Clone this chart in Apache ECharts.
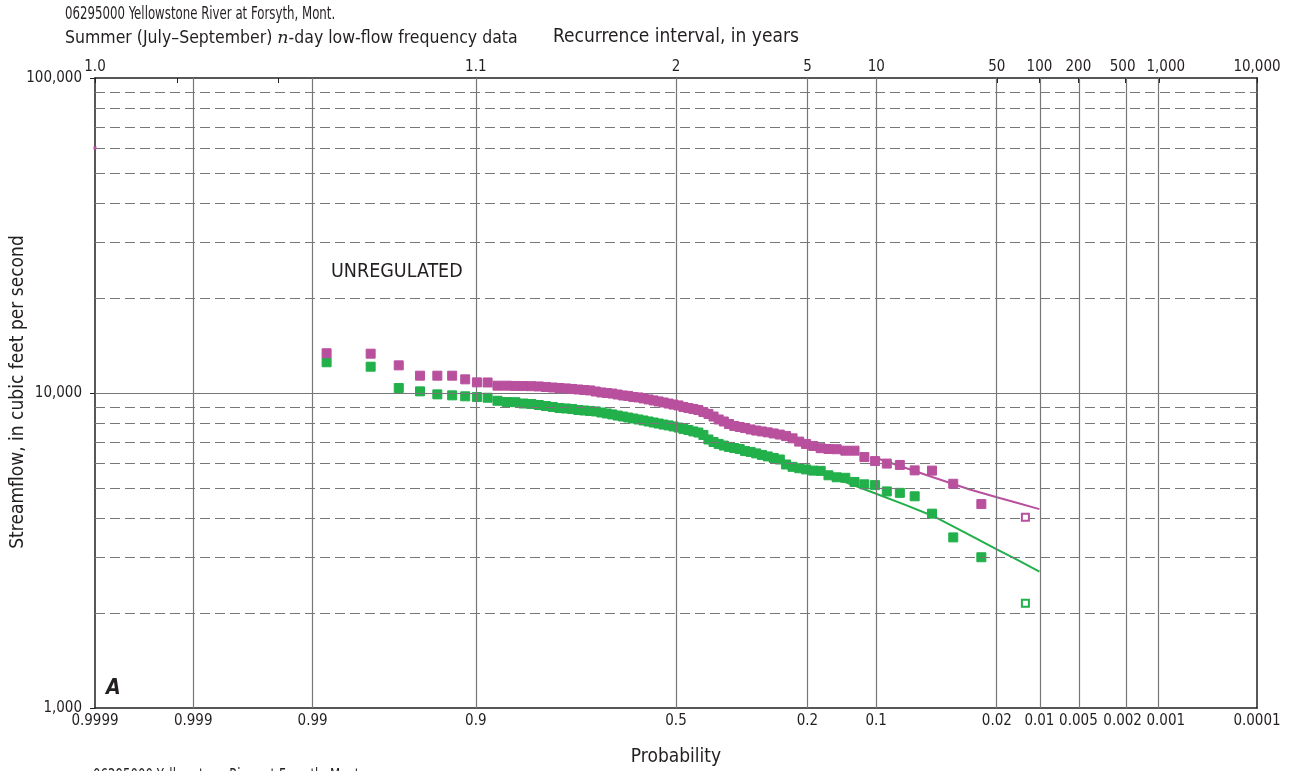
<!DOCTYPE html>
<html>
<head>
<meta charset="utf-8">
<script src="https://cdn.jsdelivr.net/npm/echarts@6/dist/echarts.min.js"></script>
<style>
  html, body { margin: 0; padding: 0; background: #fff; }
  #chart { width: 1296px; height: 771px; }
</style>
</head>
<body>
<div id="chart"></div>
<script>
// Probability (bottom) axis: ticks on a normal-probability scale
const probTicks  = [0.9999, 0.999, 0.99, 0.9, 0.5, 0.2, 0.1, 0.02, 0.01, 0.005, 0.002, 0.001, 0.0001];
const probLabels = ['0.9999', '0.999', '0.99', '0.9', '0.5', '0.2', '0.1', '0.02', '0.01', '0.005', '0.002', '0.001', '0.0001'];
// Recurrence interval (top) axis, placed at the matching probabilities
const recurTicks  = [0.9999, 0.9993, 0.9946, 0.9, 0.5, 0.2, 0.1, 0.02, 0.01, 0.005, 0.002, 0.001, 0.0001];
const recurLabels = ['1.0', '', '', '1.1', '2', '5', '10', '50', '100', '200', '500', '1,000', '10,000'];
// Streamflow axis (log)
const flowMajor = [1000, 10000, 100000];
const flowMinor = [2000, 3000, 4000, 5000, 6000, 7000, 8000, 9000,
                   20000, 30000, 40000, 50000, 60000, 70000, 80000, 90000];

// Ranked summer low flows, largest to smallest (cfs)
const flowsUpper = [
  13370, 13330, 12240, 11350, 11350, 11350, 11050, 10810, 10800, 10550,
  10550, 10530, 10520, 10510, 10490, 10450, 10410, 10370, 10340, 10300,
  10260, 10220, 10190, 10110, 10040, 10000, 9960, 9890, 9820, 9790,
  9710, 9680, 9610, 9540, 9470, 9400, 9330, 9260, 9190, 9130,
  9030, 8960, 8900, 8830, 8700, 8580, 8420, 8240, 8120, 7970,
  7860, 7800, 7740, 7660, 7600, 7550, 7500, 7440, 7380, 7300,
  7180, 7010, 6890, 6790, 6680, 6640, 6630, 6560, 6560, 6260,
  6080, 5970, 5910, 5680, 5670, 5150, 4440, 4030
];
const flowsLower = [
  12520, 12120, 10370, 10120, 9900, 9830, 9760, 9710, 9660, 9450,
  9360, 9350, 9260, 9230, 9160, 9090, 9030, 8960, 8930, 8900,
  8830, 8800, 8770, 8740, 8670, 8610, 8550, 8480, 8420, 8360,
  8300, 8240, 8180, 8120, 8060, 8000, 7940, 7890, 7830, 7770,
  7690, 7630, 7550, 7490, 7360, 7120, 6990, 6890, 6810, 6740,
  6690, 6640, 6540, 6500, 6430, 6360, 6290, 6220, 6150, 5930,
  5830, 5770, 5720, 5670, 5660, 5480, 5400, 5380, 5220, 5130,
  5100, 4870, 4820, 4700, 4140, 3480, 3010, 2150
];
// Fitted frequency curves
const fitUpperProb = [0.1, 0.07, 0.05, 0.03, 0.02, 0.015, 0.01];
const fitUpperFlow = [6220, 5770, 5400, 4940, 4670, 4500, 4280];
const fitLowerProb = [0.2, 0.15, 0.1, 0.07, 0.05, 0.03, 0.02, 0.015, 0.01];
const fitLowerFlow = [5740, 5320, 4790, 4400, 4070, 3540, 3190, 2980, 2710];
// Single mark at the left edge
const edgeProb = [0.9999];
const edgeFlow = [60000];

const colorUpper = '#B8509E';
const colorLower = '#22B04B';
const ink = '#231f20';
const gridGray = '#777777';
const font = "'DejaVu Sans Condensed', 'Liberation Sans Narrow', sans-serif";

// Inverse standard normal CDF (Acklam)
function probit(p) {
  const a = [-3.969683028665376e+01, 2.209460984245205e+02, -2.759285104469687e+02, 1.383577518672690e+02, -3.066479806614716e+01, 2.506628277459239e+00];
  const b = [-5.447609879822406e+01, 1.615858368580409e+02, -1.556989798598866e+02, 6.680131188771972e+01, -1.328068155288572e+01];
  const c = [-7.784894002430293e-03, -3.223964580411365e-01, -2.400758277161838e+00, -2.549671010229297e+00, 4.374664141464968e+00, 2.938163982698783e+00];
  const d = [7.784695709041462e-03, 3.224671290700398e-01, 2.445134137142996e+00, 3.754408661907416e+00];
  const pl = 0.02425, ph = 1 - pl;
  let q, r;
  if (p < pl) {
    q = Math.sqrt(-2 * Math.log(p));
    return (((((c[0]*q+c[1])*q+c[2])*q+c[3])*q+c[4])*q+c[5]) / ((((d[0]*q+d[1])*q+d[2])*q+d[3])*q+1);
  }
  if (p <= ph) {
    q = p - 0.5; r = q * q;
    return (((((a[0]*r+a[1])*r+a[2])*r+a[3])*r+a[4])*r+a[5])*q / (((((b[0]*r+b[1])*r+b[2])*r+b[3])*r+b[4])*r+1);
  }
  q = Math.sqrt(-2 * Math.log(1 - p));
  return -(((((c[0]*q+c[1])*q+c[2])*q+c[3])*q+c[4])*q+c[5]) / ((((d[0]*q+d[1])*q+d[2])*q+d[3])*q+1);
}
// Axis coordinate: high probability on the left
const pos = p => -probit(p);

function lookup(v, ticks, labels) {
  for (let i = 0; i < ticks.length; i++) {
    if (Math.abs(pos(ticks[i]) - v) < 1e-6) return labels[i];
  }
  return '';
}

// Weibull plotting positions for ranked values, largest first; smallest drawn hollow
function ranked(values) {
  const n = values.length;
  return values.map((v, j) => {
    const p = (n - j) / (n + 1);
    return j === n - 1
      ? { value: [pos(p), v], symbolSize: 7, itemStyle: { color: '#fff', borderWidth: 2 } }
      : { value: [pos(p), v] };
  });
}

const xMin = pos(0.9999), xMax = pos(0.0001);

const gridLines = [];
probTicks.slice(1, -1).forEach(p => gridLines.push({ xAxis: pos(p), lineStyle: { color: gridGray, width: 1.2, type: 'solid' } }));
gridLines.push({ yAxis: 10000, lineStyle: { color: gridGray, width: 1.2, type: 'solid' } });
flowMinor.forEach(v => gridLines.push({ yAxis: v, lineStyle: { color: gridGray, width: 1.2, type: [10, 5] } }));

const labelStyle = { fontFamily: font, fontSize: 15, color: ink };
// Crowded labels at the right end are nudged apart
const nudge = {
  left:  { fontFamily: font, fontSize: 15, color: ink, padding: [0, 6, 0, 0] },
  right: { fontFamily: font, fontSize: 15, color: ink, padding: [0, 0, 0, 14] }
};

function textEl(x, y, text, size, opts) {
  return Object.assign({
    type: 'text', x: x, y: y,
    style: Object.assign({ text: text, font: size + 'px ' + font, fill: ink, align: 'left', verticalAlign: 'middle' }, (opts && opts.style) || {})
  }, (opts && opts.el) || {});
}

const chart = echarts.init(document.getElementById('chart'), null, { renderer: 'canvas' });
chart.setOption({
  animation: false,
  backgroundColor: '#fff',
  grid: { left: 95, right: 39, top: 78, bottom: 63, containLabel: false },
  xAxis: [
    {
      type: 'value', position: 'bottom', min: xMin, max: xMax,
      axisLine: { show: true, onZero: false, lineStyle: { color: ink, width: 1.5 } },
      axisTick: { show: false },
      splitLine: { show: false },
      axisLabel: Object.assign({}, labelStyle, {
        margin: 6,
        customValues: probTicks.map(pos),
        formatter: v => {
          const s = lookup(v, probTicks, probLabels);
          if (s === '0.002') return '{left|' + s + '}';
          if (s === '0.001') return '{right|' + s + '}';
          return s;
        },
        rich: nudge
      })
    },
    {
      type: 'value', position: 'top', min: xMin, max: xMax,
      axisLine: { show: true, onZero: false, lineStyle: { color: ink, width: 1.5 } },
      axisTick: { show: true, inside: true, length: 5, customValues: recurTicks.map(pos), lineStyle: { color: ink, width: 1 } },
      splitLine: { show: false },
      axisLabel: Object.assign({}, labelStyle, {
        margin: 3,
        customValues: recurTicks.filter((p, i) => recurLabels[i] !== '').map(pos),
        formatter: v => {
          const s = lookup(v, recurTicks, recurLabels);
          if (s === '500') return '{left|' + s + '}';
          if (s === '1,000') return '{right|' + s + '}';
          return s;
        },
        rich: nudge
      })
    }
  ],
  yAxis: [
    {
      type: 'log', logBase: 10, min: 1000, max: 100000, position: 'left',
      axisLine: { show: true, onZero: false, lineStyle: { color: ink, width: 1.5 } },
      axisTick: { show: true, inside: false, length: 5, lineStyle: { color: ink, width: 1 } },
      splitLine: { show: false },
      minorTick: { show: false },
      axisLabel: Object.assign({}, labelStyle, {
        margin: 13,
        formatter: v => flowMajor.includes(Math.round(v)) ? Math.round(v).toLocaleString('en-US') : ''
      })
    },
    {
      type: 'log', logBase: 10, min: 1000, max: 100000, position: 'right',
      axisLine: { show: true, onZero: false, lineStyle: { color: ink, width: 1.5 } },
      axisTick: { show: false }, axisLabel: { show: false }, splitLine: { show: false }
    }
  ],
  series: [
    {
      name: 'grid', type: 'line', data: [], silent: true, z: 1,
      markLine: { silent: true, symbol: ['none', 'none'], label: { show: false }, data: gridLines, animation: false }
    },
    {
      name: 'fitUpper', type: 'line', z: 3, showSymbol: false, symbol: 'none',
      lineStyle: { color: colorUpper, width: 2 },
      data: fitUpperProb.map((p, i) => [pos(p), fitUpperFlow[i]])
    },
    {
      name: 'fitLower', type: 'line', z: 3, showSymbol: false, symbol: 'none',
      lineStyle: { color: colorLower, width: 2 },
      data: fitLowerProb.map((p, i) => [pos(p), fitLowerFlow[i]])
    },
    {
      name: 'lower', type: 'scatter', z: 4, symbol: 'rect', symbolSize: 9,
      itemStyle: { color: colorLower, borderColor: colorLower, opacity: 1 },
      data: ranked(flowsLower)
    },
    {
      name: 'upper', type: 'scatter', z: 5, symbol: 'rect', symbolSize: 9,
      itemStyle: { color: colorUpper, borderColor: colorUpper, opacity: 1 },
      data: ranked(flowsUpper)
    },
    {
      name: 'edge', type: 'scatter', z: 6, symbol: 'rect', symbolSize: 3,
      itemStyle: { color: colorUpper, opacity: 1 },
      data: edgeProb.map((p, i) => [pos(p), edgeFlow[i]])
    }
  ],
  graphic: [
    textEl(65, 15, '06295000 Yellowstone River at Forsyth, Mont.', 17, { el: { scaleX: 0.77 } }),
    textEl(65, 38, 'Summer (July–September) {i|n}-day low-flow frequency data', 17.5, {
      style: { rich: { i: { fontFamily: "'DejaVu Serif', 'Liberation Serif', serif", fontStyle: 'italic', fontSize: 17.5, fill: ink } } }
    }),
    textEl(553, 37, 'Recurrence interval, in years', 19),
    textEl(18, 392, 'Streamflow, in cubic feet per second', 19, { style: { align: 'center' }, el: { rotation: Math.PI / 2 } }),
    textEl(676, 757, 'Probability', 19, { style: { align: 'center' } }),
    textEl(331, 272, 'UNREGULATED', 19.5),
    textEl(106, 689, 'A', 20, { style: { font: 'italic bold 21px ' + font } }),
    textEl(93, 777, '06295000 Yellowstone River at Forsyth, Mont.', 17, { el: { scaleX: 0.77 } })
  ]
});
</script>
</body>
</html>
